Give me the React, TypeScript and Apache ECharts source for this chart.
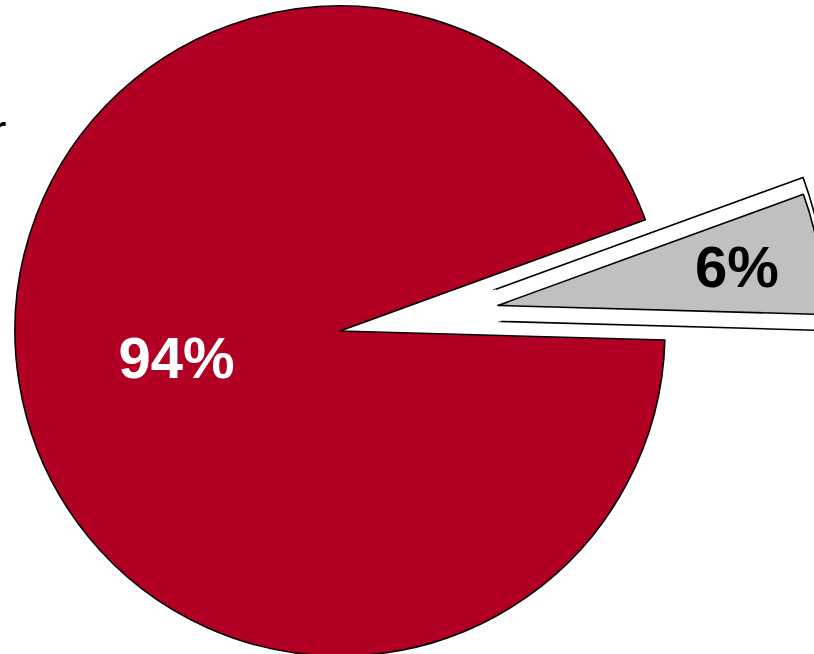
import React, { useEffect, useRef } from "react";
import * as echarts from "echarts";

const categories = ["Segment B", "Segment A"];
const values = [6, 94];
const colors = ["#C0C0C0", "#B10024"];
const labelColors = ["#000000", "#FFFFFF"];

export default function App() {
  const ref = useRef<HTMLDivElement>(null);
  useEffect(() => {
    if (!ref.current) return;
    const chart = echarts.init(ref.current, null, { renderer: "svg" });
    const center = [340, 331];
    const base = {
      type: "pie",
      center,
      startAngle: 20,
      clockwise: true,
      selectedMode: "single",
      silent: true,
      emphasis: { disabled: true },
      labelLine: { show: false },
    };
    const fmt = (p: any) => Math.round(p.percent) + "%";
    const labelFont = {
      fontSize: 58,
      fontWeight: "bold",
      fontFamily: "Liberation Sans",
    };
    chart.setOption({
      animation: false,
      graphic: [
        {
          type: "text",
          left: -9,
          top: 108,
          style: { text: "r", fontSize: 46, fontFamily: "Liberation Sans", fill: "#000" },
        },
      ],
      series: [
        {
          ...base,
          radius: [85, 414],
          selectedOffset: 75,
          label: { show: false },
          data: categories.map((c, i) => ({
            name: c,
            value: values[i],
            selected: i === 0,
            itemStyle:
              i === 0
                ? { color: "#FFFFFF", borderColor: "#000", borderWidth: 1.6 }
                : { color: "rgba(0,0,0,0)", borderWidth: 0 },
          })),
        },
        {
          ...base,
          radius: [0, 87],
          selectedOffset: 75,
          label: { show: false },
          data: categories.map((c, i) => ({
            name: c,
            value: values[i],
            selected: i === 0,
            itemStyle: { color: i === 0 ? "#FFFFFF" : "rgba(0,0,0,0)", borderWidth: 0 },
          })),
        },
        {
          ...base,
          radius: [0, 325],
          selectedOffset: 160,
          data: categories.map((c, i) => ({
            name: c,
            value: values[i],
            selected: i === 0,
            itemStyle: { color: colors[i], borderColor: "#000", borderWidth: 1.6 },
            label: {
              show: i === 1,
              position: "inside",
              formatter: fmt,
              color: labelColors[i],
              ...labelFont,
            },
          })),
        },
        {
          ...base,
          radius: [0, 478],
          selectedOffset: 160,
          data: categories.map((c, i) => ({
            name: c,
            value: values[i],
            selected: i === 0,
            itemStyle: { color: "rgba(0,0,0,0)", borderWidth: 0 },
            label: {
              show: i === 0,
              position: "inside",
              formatter: fmt,
              color: labelColors[i],
              ...labelFont,
            },
          })),
        },
      ],
    });
    return () => chart.dispose();
  }, []);
  return (
    <div
      ref={ref}
      style={{ position: "absolute", left: 0, top: 0, width: 814, height: 654, background: "#fff" }}
    />
  );
}
